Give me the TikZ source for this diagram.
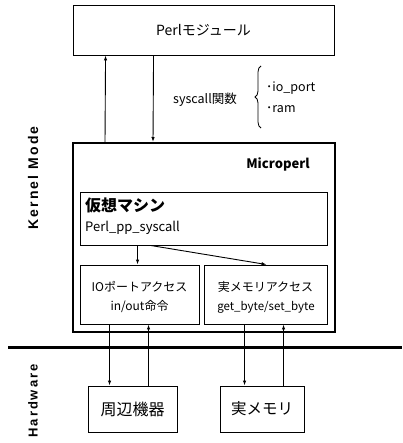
\documentclass[tikz,border=0pt]{standalone}
\usepackage{fontspec}
\setmainfont{Noto Sans CJK JP}
\newfontfamily\lbl[LetterSpace=15]{Liberation Sans}
\usetikzlibrary{arrows.meta,decorations.pathreplacing}
\tikzset{
  box/.style={draw, line width=0.9pt, inner sep=0pt, align=center},
  thickbox/.style={draw, line width=2pt, inner sep=0pt},
  arr/.style={-{Latex[length=5pt,width=3.5pt]}, line width=0.9pt},
  txt/.style={inner sep=0pt, font=\fontsize{12}{14}\selectfont},
  side/.style={inner sep=0pt, rotate=90, font=\lbl\bfseries\fontsize{14}{16}\selectfont}
}
\begin{document}
\begin{tikzpicture}[x=1pt,y=-1pt]
\useasboundingbox (0,0) rectangle (402,443);

% boxes
\node[box, minimum width=261pt, minimum height=50pt, font=\fontsize{14}{16}\selectfont] (perl) at (203.5,30) {Perlモジュール};
\node[thickbox, minimum width=262pt, minimum height=189pt] (micro) at (204,237.5) {};
\node[box, minimum width=247pt, minimum height=53pt] (vm) at (203.5,218.5) {};
\node[box, minimum width=119pt, minimum height=59pt] (io) at (139.5,294.5) {};
\node[box, minimum width=123pt, minimum height=59pt] (mem) at (265.5,294.5) {};
\node[box, minimum width=89pt, minimum height=46pt, font=\fontsize{16}{18}\selectfont] (peri) at (132.5,409) {周辺機器};
\node[box, minimum width=84pt, minimum height=46pt, font=\fontsize{15.5}{18}\selectfont] (rmem) at (262,409) {実メモリ};

% texts
\node[txt, font=\fontsize{12.5}{14}\selectfont] (sys) at (205,100) {syscall関数};
\node[txt, anchor=west, font=\fontsize{12.5}{14}\selectfont] (iop) at (266,88) {･io\_port};
\node[txt, anchor=west, font=\fontsize{12.5}{14}\selectfont] (ram) at (266,109) {･ram};
\node[txt, font=\bfseries\fontsize{13}{15}\selectfont] (mlab) at (278,164) {Microperl};
\node[txt, anchor=west, font=\bfseries\fontsize{16}{18}\selectfont] (vmlab) at (85,205) {仮想マシン};
\node[txt, anchor=west, font=\fontsize{13}{15}\selectfont] (pps) at (85,228) {Perl\_pp\_syscall};
\node[txt] (io1) at (139.5,287) {IOポートアクセス};
\node[txt] (io2) at (139.5,307) {in/out命令};
\node[txt] (me1) at (265.5,287) {実メモリアクセス};
\node[txt, font=\fontsize{11.5}{14}\selectfont] (me2) at (266,307) {get\_byte/set\_byte};

\node[side] (km) at (33,178) {Kernel Mode};
\node[side, font=\lbl\bfseries\fontsize{13}{15}\selectfont] (hw) at (33,401) {Hardware};

% brace
\coordinate (brB) at (261,128);
\coordinate (brT) at (261,66);
\draw[line width=0.8pt, decorate, decoration={brace, amplitude=6pt}] (brB) -- (brT);

% hardware line
\coordinate (hwL) at (8,347);
\coordinate (hwR) at (402,347);
\draw[line width=3pt] (hwL) -- (hwR);

% arrows
\draw[arr] ([xshift=33pt]micro.north west) -- ([xshift=33pt]perl.south west);
\draw[arr] ([xshift=81pt]perl.south west) -- ([xshift=81pt]micro.north west);
\draw[arr] ([xshift=58pt]vm.south west) -- ([xshift=58pt]io.north west);
\draw[arr] ([xshift=71pt]vm.south west) -- ([xshift=63pt]mem.north west);
\draw[arr] ([xshift=30pt]io.south west) -- ([xshift=22pt]peri.north west);
\draw[arr] ([xshift=61pt]peri.north west) -- ([xshift=69pt]io.south west);
\draw[arr] ([xshift=41pt]mem.south west) -- ([xshift=25pt]rmem.north west);
\draw[arr] ([xshift=64pt]rmem.north west) -- ([xshift=80pt]mem.south west);
\end{tikzpicture}
\end{document}
